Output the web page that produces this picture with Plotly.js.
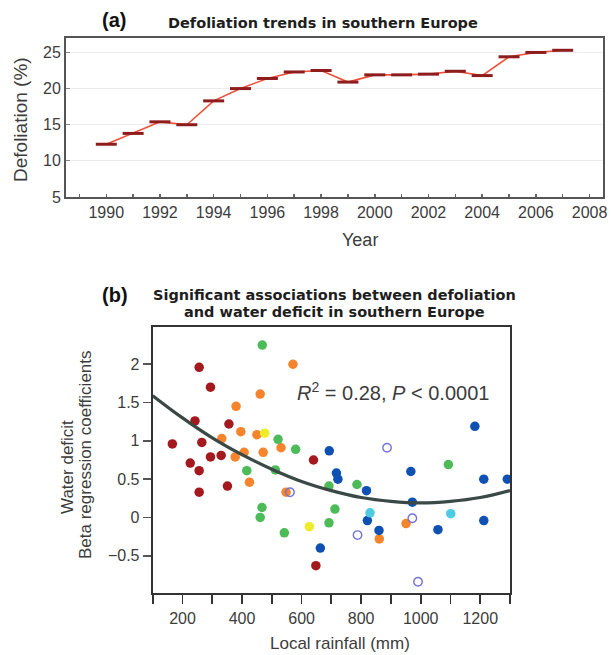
<!DOCTYPE html>
<html>
<head>
<meta charset="utf-8">
<script src="https://cdn.plot.ly/plotly-3.0.1.min.js"></script>
<style>html,body{margin:0;padding:0;background:#fff;}#chart{width:611px;height:655px;}</style>
</head>
<body>
<div id="chart"></div>
<script>
// ---- Panel (a): defoliation trend ----
const years = [1990,1991,1992,1993,1994,1995,1996,1997,1998,1999,2000,2001,2002,2003,2004,2005,2006,2007];
const defoliation = [12.3,13.8,15.4,15.0,18.3,20.0,21.4,22.3,22.5,20.9,21.9,21.9,22.0,22.4,21.8,24.4,25.0,25.3];

// ---- Panel (b): beta coefficients vs local rainfall, by colour group ----
const darkRedX = [166,256,294,242,265,356,226,256,256,294,330,351,640,648];
const darkRedY = [0.96,1.96,1.70,1.26,0.98,1.22,0.71,0.61,0.33,0.79,0.81,0.41,0.75,-0.63];
const orangeX = [571,461,380,396,332,450,407,377,471,531,425,548,861,951];
const orangeY = [2.00,1.61,1.45,1.12,1.03,1.08,0.85,0.79,0.85,0.91,0.46,0.33,-0.28,-0.08];
const yellowX = [476,626];
const yellowY = [1.10,-0.12];
const greenX = [468,521,580,416,512,467,461,542,692,712,692,786,1093];
const greenY = [2.25,1.02,0.89,0.61,0.62,0.13,0.00,-0.20,0.41,0.11,-0.07,0.43,0.69];
const blueX = [693,717,722,818,821,860,663,1182,967,972,1212,1291,1212,1058];
const blueY = [0.87,0.58,0.50,0.35,-0.04,-0.17,-0.40,1.19,0.60,0.20,0.50,0.50,-0.04,-0.16];
const cyanX = [830,1101];
const cyanY = [0.06,0.05];
const openX = [561,788,887,972,991];
const openY = [0.33,-0.23,0.91,-0.01,-0.84];

// fitted curve
const fitX = [100,200,300,400,500,600,700,800,900,1000,1100,1200,1300];
const fitY = [1.59,1.30,1.04,0.82,0.63,0.47,0.35,0.26,0.21,0.19,0.21,0.26,0.35];

const W = 611, H = 655;
const px = v => v / W;
const py = v => 1 - v / H;

const dot = (x, y, color, sym) => ({
  x: x, y: y, xaxis: 'x2', yaxis: 'y2', type: 'scatter', mode: 'markers',
  marker: sym === 'open'
    ? {symbol: 'circle-open', size: 8.5, color: '#7474d8', line: {width: 1.4, color: '#7474d8'}}
    : {symbol: 'circle', size: 9.5, color: color, line: {width: 0}},
  hoverinfo: 'x+y', showlegend: false
});

const data = [
  {
    x: years, y: defoliation, type: 'scatter', mode: 'lines+markers',
    line: {color: '#f0503a', width: 1.6},
    marker: {symbol: 'line-ew', size: 15, line: {width: 3, color: '#8e1c1c'}, color: '#8e1c1c'},
    showlegend: false
  },
  dot(darkRedX, darkRedY, '#a3191d'),
  dot(orangeX, orangeY, '#f5842c'),
  dot(yellowX, yellowY, '#ecec2a'),
  dot(greenX, greenY, '#4cbb58'),
  dot(blueX, blueY, '#0e51b3'),
  dot(cyanX, cyanY, '#4ccbe2'),
  dot(openX, openY, null, 'open'),
  {
    x: fitX, y: fitY, xaxis: 'x2', yaxis: 'y2', type: 'scatter', mode: 'lines',
    line: {color: '#3a4946', width: 3.2, shape: 'spline', smoothing: 1.1},
    showlegend: false
  }
];

const narrow = '"Liberation Sans Narrow", "Arial Narrow", "Liberation Sans", Arial, sans-serif';
const sans = '"Liberation Sans", Arial, sans-serif';
const heavy = '"DejaVu Sans", "Liberation Sans", Arial, sans-serif';
const txt = '#3c3c3c';

const ann = (text, x, y, size, opts) => Object.assign({
  text: text, x: px(x), y: py(y), xref: 'paper', yref: 'paper',
  xanchor: 'center', yanchor: 'middle', showarrow: false,
  font: {family: sans, size: size, color: txt}
}, opts || {});

const titleFont = {family: heavy, size: 14.5, color: '#1e1e1e', weight: 'bold'};

const layout = {
  width: W, height: H,
  margin: {l: 0, r: 0, t: 0, b: 0},
  paper_bgcolor: '#ffffff', plot_bgcolor: '#ffffff',
  showlegend: false,
  xaxis: {
    domain: [px(66), px(603)], anchor: 'y',
    range: [1988.5, 2008.5], tick0: 1990, dtick: 2,
    ticks: 'inside', ticklen: 3, tickcolor: '#666', tickwidth: 1.5,
    minor: {dtick: 1, ticks: 'inside', ticklen: 3, tickcolor: '#666', tickwidth: 1.5},
    showgrid: false, zeroline: false,
    showline: true, mirror: true, linecolor: '#555', linewidth: 2,
    tickfont: {family: narrow, size: 16, color: txt}
  },
  yaxis: {
    domain: [py(197), py(38)], anchor: 'x',
    range: [5, 27], tick0: 5, dtick: 5,
    ticks: 'inside', ticklen: 4, tickcolor: '#888', tickwidth: 1,
    showgrid: true, gridcolor: '#ececec', gridwidth: 1, zeroline: false,
    showline: true, mirror: true, linecolor: '#555', linewidth: 2,
    tickfont: {family: narrow, size: 16, color: txt}
  },
  xaxis2: {
    domain: [px(152.7), px(510)], anchor: 'y2',
    range: [100, 1300], tick0: 200, dtick: 200,
    ticks: 'outside', ticklen: 9, tickwidth: 1.8, tickcolor: '#333',
    minor: {dtick: 100, ticks: 'outside', ticklen: 9, tickwidth: 1.8, tickcolor: '#333'},
    showgrid: false, zeroline: false,
    showline: true, mirror: true, linecolor: '#333', linewidth: 2,
    tickfont: {family: sans, size: 16, color: txt}
  },
  yaxis2: {
    domain: [py(593.3), py(326.7)], anchor: 'x2',
    range: [-0.99, 2.49], tick0: 0, dtick: 0.5,
    ticks: 'outside', ticklen: 8, tickwidth: 1.5, tickcolor: '#555',
    showgrid: false, zeroline: false,
    showline: true, mirror: true, linecolor: '#333', linewidth: 2,
    tickfont: {family: sans, size: 16, color: txt}
  },
  annotations: [
    ann('<b>(a)</b>', 114, 20, 20, {font: {family: sans, size: 20, color: '#111'}}),
    ann('Defoliation trends in southern Europe', 323, 23, 14.5, {font: titleFont}),
    ann('Defoliation (%)', 21, 120, 19, {textangle: -90}),
    ann('Year', 360, 240, 18),
    ann('<b>(b)</b>', 115, 295, 20, {font: {family: sans, size: 20, color: '#111'}}),
    ann('Significant associations between defoliation', 334, 295, 14.5, {font: titleFont}),
    ann('and water deficit in southern Europe', 334, 311.5, 14.5, {font: titleFont}),
    ann('Water deficit', 67, 467, 17, {textangle: -90}),
    ann('Beta regression coefficients', 85, 455, 17, {textangle: -90}),
    ann('Local rainfall (mm)', 340, 643, 17),
    {
      text: '<i>R</i><sup>2</sup> = 0.28, <i>P</i> &lt; 0.0001',
      x: 579, y: 1.64, xref: 'x2', yref: 'y2', xanchor: 'left', yanchor: 'middle',
      showarrow: false, font: {family: sans, size: 20, color: txt}
    }
  ]
};

Plotly.newPlot('chart', data, layout, {displayModeBar: false, staticPlot: true});
</script>
</body>
</html>
